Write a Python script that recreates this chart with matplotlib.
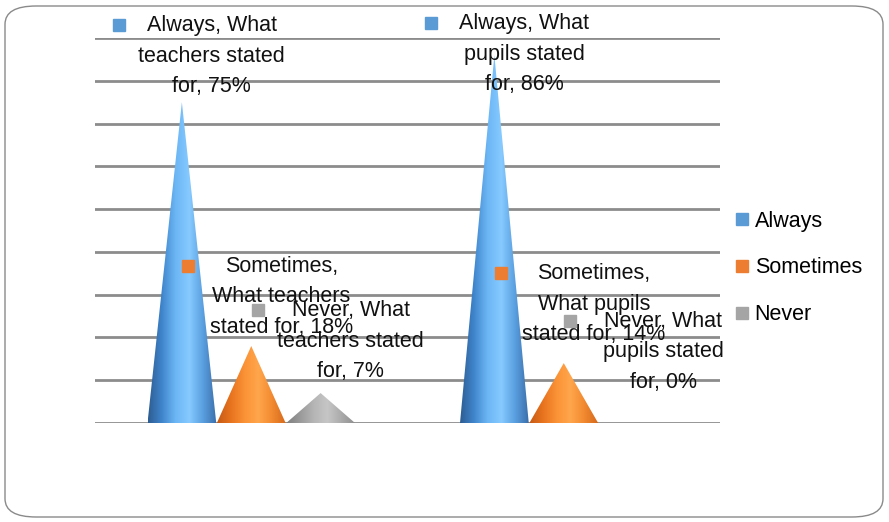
import numpy as np
import matplotlib.pyplot as plt
from matplotlib.patches import Polygon, FancyBboxPatch
from matplotlib.colors import LinearSegmentedColormap
from matplotlib.lines import Line2D
from matplotlib import transforms

categories = ['What teachers stated for', 'What pupils stated for']
series = ['Always', 'Sometimes', 'Never']
values = {
    'Always': [75, 86],
    'Sometimes': [18, 14],
    'Never': [7, 0],
}
labels = {
    'Always': ['Always, What\nteachers stated\nfor, 75%', 'Always, What\npupils stated\nfor, 86%'],
    'Sometimes': ['Sometimes,\nWhat teachers\nstated for, 18%', 'Sometimes,\nWhat pupils\nstated for, 14%'],
    'Never': ['Never, What\nteachers stated\nfor, 7%', 'Never, What\npupils stated\nfor, 0%'],
}

key_colors = {'Always': '#5b9bd5', 'Sometimes': '#ed7d31', 'Never': '#a5a5a5'}
shades = {
    'Always': ['#2d5d92', '#3f85cc', '#6cb6f5', '#86caff', '#5a9fe0', '#3a6faa'],
    'Sometimes': ['#c65a14', '#e8731f', '#fb9236', '#ffa64c', '#f28a30', '#d66a1c'],
    'Never': ['#7f7f7f', '#999999', '#b5b5b5', '#c6c6c6', '#acacac', '#8f8f8f'],
}
# pixel offsets of each label centre above the cone tip
label_rise = {'Always': [46, 1], 'Sometimes': [49, 59], 'Never': [52, 71]}

plt.rcParams['font.family'] = ['Liberation Sans', 'DejaVu Sans']

fig = plt.figure(figsize=(8.89, 5.22), dpi=100)
ax = fig.add_axes([95 / 889, 99 / 522, 625 / 889, 385 / 522])
ax.set_xlim(-0.5, 1.5)
ax.set_ylim(0, 90)
ax.set_yticks(range(0, 91, 10))
ax.grid(axis='y', color='#8c8c8c', lw=2)
ax.set_axisbelow(True)
ax.tick_params(left=False, bottom=False, labelleft=False, labelbottom=False)
for s in ax.spines.values():
    s.set_visible(False)

width = 0.22
step = 0.222
x = np.arange(len(categories))

for i, name in enumerate(series):
    cmap = LinearSegmentedColormap.from_list(name, shades[name])
    for j, v in enumerate(values[name]):
        cx = x[j] + (i - 1) * step
        if v > 0:
            tri = Polygon([(cx - width / 2, 0), (cx + width / 2, 0), (cx, v)],
                          closed=True, fc='none', ec='none')
            ax.add_patch(tri)
            grad = np.linspace(0, 1, 200).reshape(1, -1)
            im = ax.imshow(grad, cmap=cmap, extent=[cx - width / 2, cx + width / 2, 0, v],
                           aspect='auto', zorder=3, interpolation='bilinear')
            im.set_clip_path(tri)
        dy = label_rise[name][j]
        ax.annotate(labels[name][j], xy=(cx, v), xytext=(30, dy), textcoords='offset pixels',
                    ha='center', va='center', fontsize=15.5, linespacing=1.6,
                    color='#111111', zorder=5)
        tr = transforms.offset_copy(ax.transData, fig=fig, x=30 - 93, y=dy + 31, units='dots')
        ax.plot([cx], [v], marker='s', ms=9, color=key_colors[name], transform=tr,
                zorder=5, clip_on=False)

handles = [Line2D([], [], marker='s', ls='', ms=9, color=key_colors[n]) for n in series]
fig.legend(handles, series, loc='center left', bbox_to_anchor=(716 / 889, 254 / 522),
           frameon=False, fontsize=15.5, handlelength=0.6, handletextpad=0.3,
           labelspacing=1.2)

border = FancyBboxPatch((5 / 889, 5 / 522), 878 / 889, 511 / 522,
                        boxstyle='round,pad=0,rounding_size=0.035',
                        transform=fig.transFigure, fc='none', ec='#8a8a8a', lw=1)
fig.patches.append(border)

fig.savefig('out.png', dpi=100)
